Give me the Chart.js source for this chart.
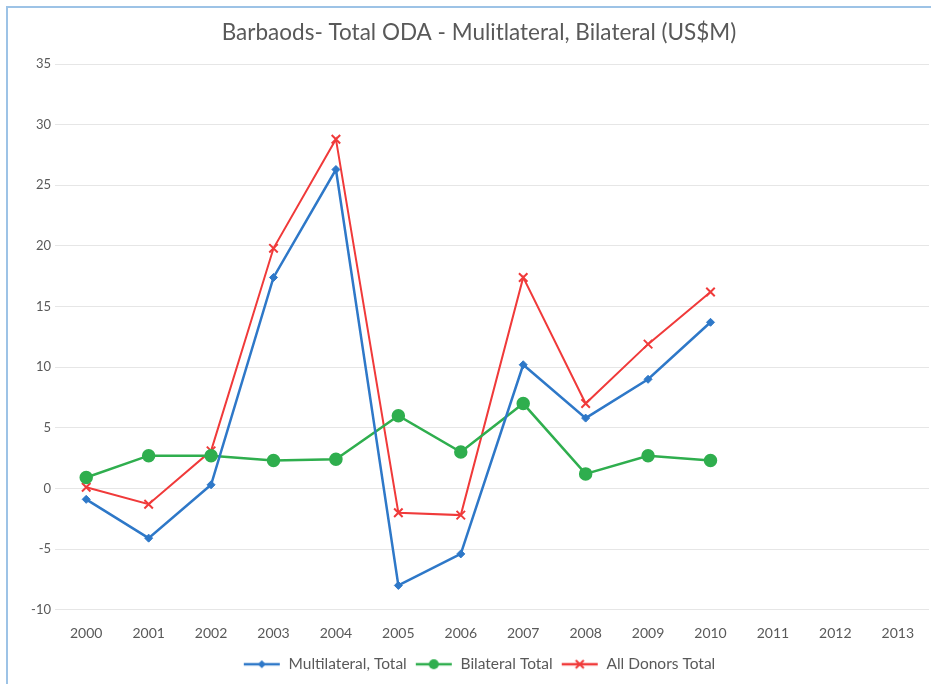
<!DOCTYPE html>
<html>
<head>
<meta charset="utf-8">
<title>Barbados ODA</title>
<script src="https://cdn.jsdelivr.net/npm/chart.js@4/dist/chart.umd.min.js"></script>
<style>
  html,body{margin:0;padding:0;background:#fff;}
  #wrap{position:relative;width:931px;height:684px;overflow:hidden;}
  #frame{position:absolute;left:6px;top:6px;right:-10px;bottom:-10px;border-left:2px solid #9dc3e6;border-top:2px solid #9dc3e6;pointer-events:none;}
  canvas{position:absolute;left:0;top:0;}
</style>
</head>
<body>
<div id="wrap">
  <canvas id="myChart" width="931" height="684"></canvas>
  <div id="frame"></div>
</div>
<script>
const years=['2000','2001','2002','2003','2004','2005','2006','2007','2008','2009','2010','2011','2012','2013'];
const multilateral=[-0.9,-4.1,0.3,17.4,26.3,-8.0,-5.4,10.2,5.8,9.0,13.7,null,null,null];
const bilateral=[0.9,2.7,2.7,2.3,2.4,6.0,3.0,7.0,1.2,2.7,2.3,null,null,null];
const allDonors=[0.1,-1.3,3.1,19.8,28.8,-2.0,-2.2,17.4,7.0,11.9,16.2,null,null,null];
const yTicks=[35,30,25,20,15,10,5,0,-5,-10];

const blue='#2e78c8', green='#2fae4e', red='#f03a3a', grey='#595959';

// little line+marker pictures for the legend, like the office legend keys
const legendKey=(color,style)=>{
    const c=document.createElement('canvas');
    c.width=38;c.height=14;
    const g=c.getContext('2d');
    g.strokeStyle=color;g.fillStyle=color;g.lineWidth=2.5;
    g.beginPath();g.moveTo(1,7);g.lineTo(37,7);g.stroke();
    g.beginPath();
    if(style==='rectRot'){g.moveTo(19,3);g.lineTo(23,7);g.lineTo(19,11);g.lineTo(15,7);g.closePath();g.fill();}
    else if(style==='circle'){g.arc(19,7,5,0,Math.PI*2);g.fill();}
    else{g.lineWidth=2;g.moveTo(15,3);g.lineTo(23,11);g.moveTo(23,3);g.lineTo(15,11);g.stroke();}
    return c;
};

const ctx=document.getElementById('myChart').getContext('2d');
new Chart(ctx,{
    type:'line',
    data:{
        labels:years,
        datasets:[{
            label:'Multilateral, Total',
            data:multilateral,
            borderColor:blue,backgroundColor:blue,borderWidth:2.5,
            pointStyle:'rectRot',pointRadius:4,pointBorderWidth:1,
            legendImg:legendKey(blue,'rectRot')
        },{
            label:'Bilateral Total',
            data:bilateral,
            borderColor:green,backgroundColor:green,borderWidth:2.5,
            pointStyle:'circle',pointRadius:5.5,
            legendImg:legendKey(green,'circle')
        },{
            label:'All Donors Total',
            data:allDonors,
            borderColor:red,backgroundColor:red,borderWidth:2,
            pointStyle:'crossRot',pointRadius:6,pointBorderWidth:2,
            legendImg:legendKey(red,'crossRot')
        }]
    },
    options:{
        responsive:false,
        animation:false,
        layout:{autoPadding:false,padding:{left:29,right:2,bottom:2}},
        plugins:{
            title:{
                display:true,
                text:'Barbaods- Total ODA - Mulitlateral, Bilateral (US$M)',
                color:grey,
                font:{family:'Lato',size:22.5,weight:'normal'},
                padding:{top:19,bottom:18}
            },
            legend:{
                position:'bottom',
                labels:{
                    usePointStyle:true,
                    pointStyleWidth:38,
                    color:grey,
                    font:{family:'Lato',size:15.5},
                    padding:8,
                    generateLabels:chart=>chart.data.datasets.map((ds,i)=>({
                        text:ds.label,
                        pointStyle:ds.legendImg,
                        fontColor:grey,
                        datasetIndex:i,
                        lineWidth:0
                    }))
                }
            },
            tooltip:{enabled:false}
        },
        scales:{
            x:{
                offset:true,
                grid:{display:false},
                border:{display:false},
                ticks:{color:grey,font:{family:'Lato',size:14},padding:7,maxRotation:0}
            },
            y:{
                min:-10,max:35,
                afterBuildTicks:axis=>{axis.ticks=yTicks.map(v=>({value:v}));},
                afterFit:axis=>{axis.width=26;},
                grid:{color:'#e6e6e6',drawTicks:false},
                border:{display:false},
                ticks:{color:grey,font:{family:'Lato',size:13},padding:4}
            }
        }
    }
});
</script>
</body>
</html>
